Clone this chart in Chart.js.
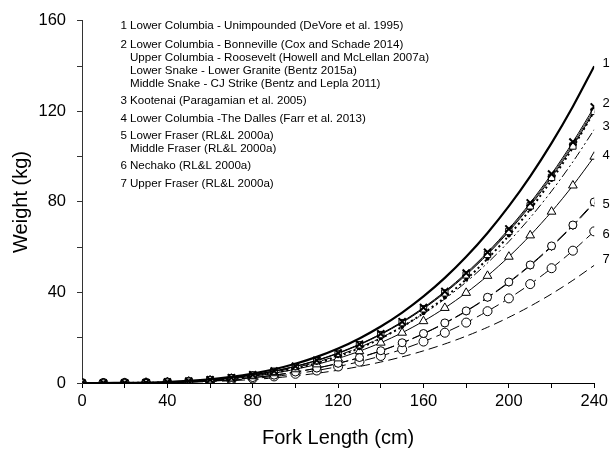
<!DOCTYPE html>
<html>
<head>
<meta charset="utf-8">
<script src="https://cdn.jsdelivr.net/npm/chart.js@4.4.1/dist/chart.umd.min.js"></script>
<style>
html,body{margin:0;padding:0;background:#fff;}
#wrap{width:612px;height:450px;}
</style>
</head>
<body>
<div id="wrap"><canvas id="c" width="612" height="450"></canvas></div>
<script>
// Fork length (cm)
const lengths = [0,10,20,30,40,50,60,70,80,90,100,110,120,130,140,150,160,170,180,190,200,210,220,230,240];
// Weight (kg) series
const lowerColumbiaUnimp = [0,0.005,0.05,0.18,0.45,0.93,1.66,2.72,4.16,6.07,8.50,11.53,15.23,19.69,24.95,31.11,38.25,46.44,55.76,66.29,78.12,91.32,105.98,122.18,140.0];
const bonneville = [0,0.005,0.04,0.16,0.40,0.81,1.44,2.37,3.63,5.29,7.41,10.05,13.28,17.15,21.74,27.11,33.33,40.47,48.59,57.77,68.08,79.58,92.35,106.47,122.0];
const roosevelt = [0,0.005,0.04,0.15,0.39,0.79,1.42,2.33,3.57,5.20,7.29,9.88,13.06,16.87,21.39,26.67,32.79,39.81,47.79,56.82,66.96,78.27,90.84,104.72,120.0];
const lowerGranite = [0,0.003,0.03,0.11,0.30,0.63,1.15,1.93,3.03,4.49,6.39,8.79,11.77,15.39,19.72,24.85,30.85,37.80,45.78,54.86,65.15,76.72,89.66,104.05,120.0];
const cjStrike = [0,0.005,0.04,0.16,0.39,0.80,1.43,2.35,3.60,5.24,7.35,9.97,13.17,17.01,21.57,26.89,33.06,40.14,48.19,57.30,67.52,78.93,91.59,105.59,121.0];
const kootenai = [0,0.004,0.04,0.14,0.36,0.74,1.33,2.17,3.33,4.85,6.80,9.23,12.19,15.75,19.96,24.89,30.60,37.15,44.61,53.04,62.50,73.06,84.78,97.74,112.0];
const theDalles = [0,0.004,0.035,0.13,0.32,0.66,1.18,1.94,2.97,4.33,6.07,8.24,10.88,14.06,17.82,22.22,27.32,33.17,39.83,47.35,55.80,65.23,75.70,87.27,100.0];
const lowerFraser = [0,0.003,0.03,0.10,0.26,0.53,0.95,1.55,2.38,3.47,4.86,6.59,8.71,11.25,14.26,17.78,21.86,26.54,31.86,37.88,44.64,52.18,60.56,69.81,80.0];
const middleFraser = [0,0.003,0.03,0.10,0.26,0.53,0.94,1.54,2.36,3.45,4.83,6.55,8.65,11.18,14.17,17.67,21.72,26.37,31.66,37.65,44.36,51.86,60.18,69.38,79.5];
const nechako = [0,0.003,0.02,0.09,0.22,0.44,0.79,1.30,1.99,2.90,4.07,5.52,7.29,9.42,11.94,14.89,18.31,22.22,26.69,31.73,37.39,43.70,50.72,58.47,67.0];
const upperFraser = [0,0.002,0.02,0.07,0.17,0.34,0.62,1.01,1.55,2.25,3.16,4.28,5.66,7.31,9.27,11.56,14.21,17.25,20.71,24.62,29.02,33.92,39.36,45.38,52.0];

// Curve number labels at right end (value in kg where the label sits)
const endLabels = ['1','2','3','4','5','6','7'];
const endLabelValues = [141,123.5,113.5,100.5,79,65.5,54.5];

// Key text (number, text)
const keyNumbers = ['1','2','','','','3','4','5','','6','7'];
const keyTexts = [
  'Lower Columbia - Unimpounded (DeVore et al. 1995)',
  'Lower Columbia - Bonneville (Cox and Schade 2014)',
  'Upper Columbia - Roosevelt (Howell and McLellan 2007a)',
  'Lower Snake - Lower Granite (Bentz 2015a)',
  'Middle Snake - CJ Strike (Bentz and Lepla 2011)',
  'Kootenai (Paragamian et al. 2005)',
  'Lower Columbia -The Dalles (Farr et al. 2013)',
  'Lower Fraser (RL&L 2000a)',
  'Middle Fraser (RL&L 2000a)',
  'Nechako (RL&L 2000a)',
  'Upper Fraser (RL&L 2000a)'
];
const keyRowY = [26,45,58,71,84,101,119,136,149,166,184];

const xTicksLabelled = [0,40,80,120,160,200,240];
const yTicksLabelled = [0,40,80,120,160];

function pts(arr){ return lengths.map((x,i)=>({x:x,y:arr[i]})); }

const FONT = "'Liberation Sans', Arial, sans-serif";

const datasets = [
  {label:'1', data:pts(lowerColumbiaUnimp), borderColor:'#000', borderWidth:2.2, pointRadius:0, tension:0.3},
  {label:'Bonneville', data:pts(bonneville), borderColor:'#000', borderWidth:1, pointStyle:'crossRot', pointRadius:5, pointBorderWidth:2, pointBorderColor:'#000', tension:0.3},
  {label:'Roosevelt', data:pts(roosevelt), borderColor:'#000', borderWidth:1, pointStyle:'rect', pointRadius:4.5, pointBorderWidth:1, pointBorderColor:'#000', pointBackgroundColor:'#fff', tension:0.3},
  {label:'Lower Granite', data:pts(lowerGranite), borderColor:'#000', borderWidth:2, borderDash:[2,3], pointStyle:'circle', pointRadius:2, pointBorderWidth:0, pointBackgroundColor:'#000', tension:0.3},
  {label:'CJ Strike', data:pts(cjStrike), borderColor:'#000', borderWidth:0.8, pointRadius:0, tension:0.3},
  {label:'Kootenai', data:pts(kootenai), borderColor:'#000', borderWidth:1, borderDash:[9,3,2,3,2,3], pointRadius:0, tension:0.3},
  {label:'The Dalles', data:pts(theDalles), borderColor:'#000', borderWidth:1, pointStyle:'triangle', pointRadius:5, pointBorderWidth:1, pointBorderColor:'#000', pointBackgroundColor:'#fff', tension:0.3},
  {label:'Lower Fraser', data:pts(lowerFraser), borderColor:'#000', borderWidth:1, borderDash:[12,4], pointStyle:'circle', pointRadius:4, pointBorderWidth:1, pointBorderColor:'#000', pointBackgroundColor:'#fff', tension:0.3},
  {label:'Middle Fraser', data:pts(middleFraser), borderColor:'#000', borderWidth:1, borderDash:[12,4], pointStyle:'star', pointRadius:4, pointBorderWidth:1, pointBorderColor:'#000', tension:0.3},
  {label:'Nechako', data:pts(nechako), borderColor:'#000', borderWidth:1, borderDash:[10,5], pointStyle:'circle', pointRadius:4.5, pointBorderWidth:1, pointBorderColor:'#000', pointBackgroundColor:'#fff', tension:0.3},
  {label:'Upper Fraser', data:pts(upperFraser), borderColor:'#000', borderWidth:1, borderDash:[9,5], pointRadius:0, tension:0.3}
];

const textPlugin = {
  id:'textPlugin',
  afterDraw(chart){
    const ctx = chart.ctx;
    const ys = chart.scales.y, xs = chart.scales.x;
    ctx.save();
    ctx.fillStyle = '#000';
    // key
    ctx.font = '11.6px ' + FONT;
    ctx.textBaseline = 'middle';
    keyTexts.forEach((t,i)=>{
      ctx.textAlign = 'right';
      if(keyNumbers[i]) ctx.fillText(keyNumbers[i], 127, keyRowY[i]);
      ctx.textAlign = 'left';
      ctx.fillText(t, 130, keyRowY[i]);
    });
    // end labels
    ctx.font = '13px ' + FONT;
    ctx.textAlign = 'center';
    endLabels.forEach((t,i)=>{
      ctx.fillText(t, xs.getPixelForValue(240) + 12, ys.getPixelForValue(endLabelValues[i]));
    });
    ctx.restore();
  }
};

new Chart(document.getElementById('c'), {
  type:'line',
  data:{datasets:datasets},
  options:{
    responsive:false,
    animation:false,
    events:[],
    layout:{padding:{top:20,right:15,left:0,bottom:0}},
    plugins:{legend:{display:false}, tooltip:{enabled:false}},
    scales:{
      x:{
        type:'linear', min:0, max:240,
        afterFit(s){ s.height = 67; },
        ticks:{stepSize:20, autoSkip:false, maxRotation:0, padding:4, color:'#000',
          font:{family:FONT, size:16.5},
          callback:(v)=> xTicksLabelled.includes(v) ? String(v) : ''},
        grid:{drawOnChartArea:false, drawTicks:true, tickLength:5, tickColor:'#000', tickWidth:1},
        border:{display:true, color:'#000', width:1},
        title:{display:true, text:'Fork Length (cm)', color:'#000', font:{family:FONT, size:20}, padding:{top:6,bottom:0}}
      },
      y:{
        type:'linear', min:0, max:160,
        afterFit(s){ s.width = 82; },
        ticks:{stepSize:20, autoSkip:false, padding:11, color:'#000',
          font:{family:FONT, size:16.5},
          callback:(v)=> yTicksLabelled.includes(v) ? String(v) : ''},
        grid:{drawOnChartArea:false, drawTicks:true, tickLength:5, tickColor:'#333', tickWidth:1},
        border:{display:true, color:'#333', width:1},
        title:{display:true, text:'Weight (kg)', color:'#000', font:{family:FONT, size:20}, padding:{top:9,bottom:0}}
      }
    }
  },
  plugins:[textPlugin]
});
</script>
</body>
</html>
